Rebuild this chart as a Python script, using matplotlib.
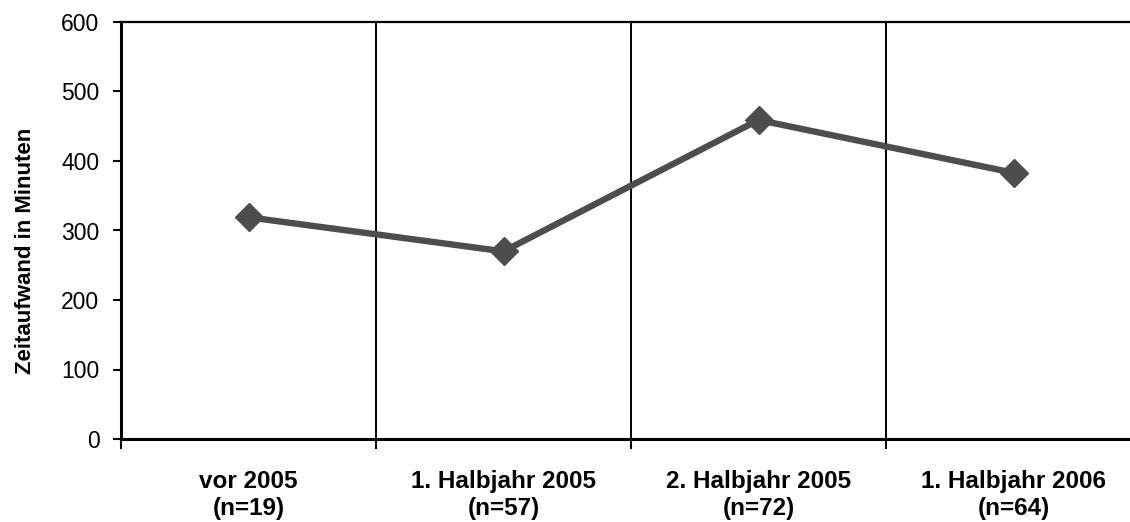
import matplotlib
matplotlib.use("Agg")
import matplotlib.pyplot as plt
import numpy as np

categories = ["vor 2005\n(n=19)", "1. Halbjahr 2005\n(n=57)", "2. Halbjahr 2005\n(n=72)", "1. Halbjahr 2006\n(n=64)"]
values = [319, 270, 459, 383]
yticks = [0, 100, 200, 300, 400, 500, 600]

plt.rcParams['font.family'] = ['Liberation Sans', 'DejaVu Sans']

W, H = 1130, 522
fig = plt.figure(figsize=(W/100, H/100), dpi=100)
left, right, top, bottom = 121, 1141, 22, 439
ax = fig.add_axes([left/W, 1 - bottom/H, (right-left)/W, (bottom-top)/H])

x = np.arange(len(categories))
ax.plot(x, values, color='#4d4d4d', lw=4.6, marker='D', ms=14, mec='#4d4d4d', mfc='#4d4d4d', zorder=3, clip_on=False)

ax.set_xlim(-0.5, len(categories) - 0.5)
ax.set_ylim(0, 600)
ax.set_yticks(yticks)
ax.tick_params(axis='y', labelsize=16.5, length=6, width=1.5, pad=9.5, colors='black')

ax.set_xticks(x)
ax.set_xticklabels(categories, fontsize=17.5, fontweight='bold', linespacing=1.23)
ax.tick_params(axis='x', which='major', length=0, pad=22.5)
bounds = np.arange(-0.5, len(categories) - 0.5, 1.0)
ax.set_xticks(bounds, minor=True)
ax.tick_params(axis='x', which='minor', length=7, width=1.5, direction='out')
for b in bounds[1:]:
    ax.axvline(b, color='black', lw=1.4, zorder=1)

for s in ['left', 'bottom']:
    ax.spines[s].set_linewidth(2.2)
ax.spines['top'].set_linewidth(1.6)
ax.spines['right'].set_visible(False)

ax.set_ylabel("Zeitaufwand in Minuten", fontsize=16, fontweight='bold')
ax.yaxis.set_label_coords(-0.083, 0.45)

fig.savefig("out.png", dpi=100)
